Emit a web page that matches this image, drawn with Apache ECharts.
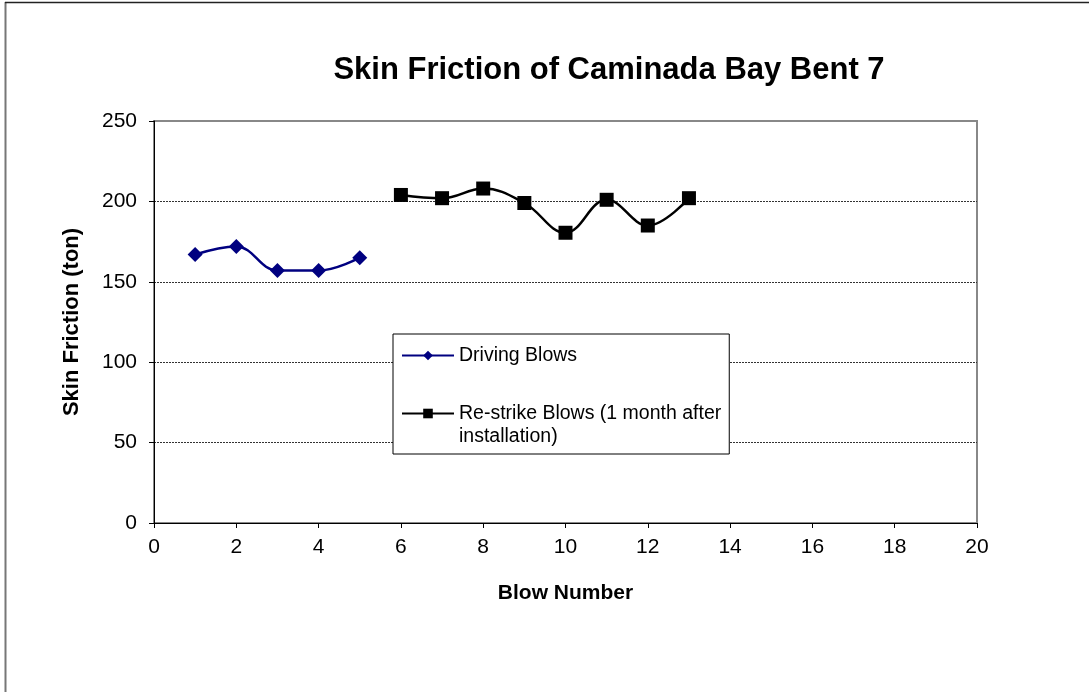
<!DOCTYPE html>
<html>
<head>
<meta charset="utf-8">
<script src="https://cdn.jsdelivr.net/npm/echarts@6/dist/echarts.min.js"></script>
<style>
html,body{margin:0;padding:0;background:#fff;}
#c{width:1089px;height:692px;}
</style>
</head>
<body>
<div id="c"></div>
<script>
const titleText = 'Skin Friction of Caminada Bay Bent 7';
const xAxisName = 'Blow Number';
const yAxisName = 'Skin Friction (ton)';
const seriesNames = ['Driving Blows', 'Re-strike Blows (1 month after installation)'];
const drivingX = [1, 2, 3, 4, 5];
const drivingY = [167, 172, 157, 157, 165];
const restrikeX = [6, 7, 8, 9, 10, 11, 12, 13];
const restrikeY = [204, 202, 208, 199, 180.5, 201, 185, 202];

const font = '"Liberation Sans", Arial, sans-serif';
const chart = echarts.init(document.getElementById('c'), null, {renderer: 'canvas'});
const zip = (xs, ys) => xs.map((x, i) => [x, ys[i]]);

chart.setOption({
  backgroundColor: '#fff',
  animation: false,
  title: {
    text: titleText,
    left: 604,
    top: 50,
    textAlign: 'center',
    textStyle: {fontFamily: font, fontSize: 31, fontWeight: 'bold', color: '#000'}
  },
  grid: {
    left: 154, right: 112, top: 121, bottom: 169,
    show: true, borderColor: '#888', borderWidth: 2, backgroundColor: 'transparent'
  },
  legend: {
    orient: 'vertical',
    left: 393, top: 334,
    padding: [10, 8, 6, 8],
    itemGap: 12,
    itemWidth: 52,
    itemHeight: 12,
    backgroundColor: '#fff',
    borderColor: '#000',
    borderWidth: 1,
    borderRadius: 0,
    data: seriesNames,
    formatter: function (name) {
      return name === seriesNames[1] ? '\nRe-strike Blows (1 month after\ninstallation)' : name;
    },
    textStyle: {fontFamily: font, fontSize: 19.5, color: '#000', lineHeight: 23}
  },
  xAxis: {
    type: 'value', min: 0, max: 20, interval: 2,
    name: xAxisName, nameLocation: 'middle', nameGap: 60,
    nameTextStyle: {fontFamily: font, fontSize: 21, fontWeight: 'bold', color: '#000'},
    axisLine: {show: true, lineStyle: {color: '#000', width: 1}},
    axisTick: {show: true, inside: false, length: 5, lineStyle: {color: '#000'}},
    axisLabel: {fontFamily: font, fontSize: 21, color: '#000', margin: 14},
    splitLine: {show: false}
  },
  yAxis: {
    type: 'value', min: 0, max: 250, interval: 50,
    name: yAxisName, nameLocation: 'middle', nameGap: 71, nameRotate: 90,
    nameTextStyle: {fontFamily: font, fontSize: 22, fontWeight: 'bold', color: '#000'},
    axisLine: {show: true, lineStyle: {color: '#000', width: 1}},
    axisTick: {show: true, inside: false, length: 5, lineStyle: {color: '#000'}},
    axisLabel: {fontFamily: font, fontSize: 21, color: '#000', margin: 17},
    splitLine: {show: true, lineStyle: {color: ['transparent', '#333', '#333', '#333', '#333', 'transparent'], type: [2, 1], width: 1}}
  },
  graphic: [
    {type: 'line', shape: {x1: 5.5, y1: 2, x2: 5.5, y2: 692}, style: {stroke: '#777', lineWidth: 2}, z: 100},
    {type: 'line', shape: {x1: 5, y1: 2.5, x2: 1089, y2: 2.5}, style: {stroke: '#222', lineWidth: 1.5}, z: 100}
  ],
  series: [
    {
      name: seriesNames[0], type: 'line', data: zip(drivingX, drivingY),
      smooth: 0.4, symbol: 'diamond', symbolSize: 15,
      lineStyle: {color: '#000080', width: 2.5},
      itemStyle: {color: '#000080'}
    },
    {
      name: seriesNames[1], type: 'line', data: zip(restrikeX, restrikeY),
      smooth: 0.4, symbol: 'rect', symbolSize: 14,
      lineStyle: {color: '#000', width: 2.5},
      itemStyle: {color: '#000'}
    }
  ]
});
</script>
</body>
</html>
